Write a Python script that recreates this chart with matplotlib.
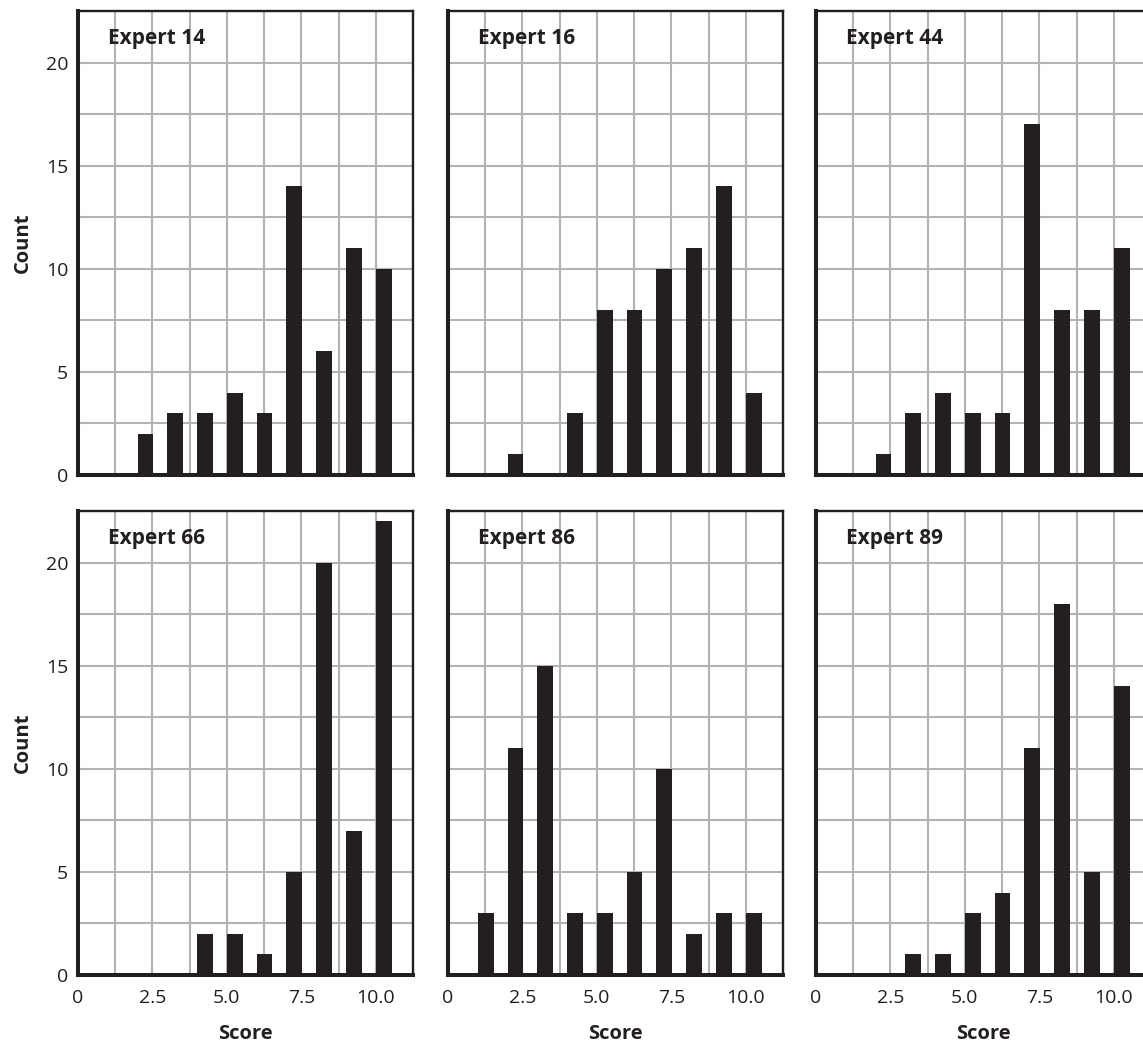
import numpy as np
import matplotlib
matplotlib.use("Agg")
import matplotlib.pyplot as plt

plt.rcParams['font.family'] = ['Open Sans', 'DejaVu Sans']

# score values (bins) and counts per expert
scores = np.arange(1, 11)
experts = ["Expert 14", "Expert 16", "Expert 44", "Expert 66", "Expert 86", "Expert 89"]
counts_14 = [0, 2, 3, 3, 4, 3, 14, 6, 11, 10]
counts_16 = [0, 1, 0, 3, 8, 8, 10, 11, 14, 4]
counts_44 = [0, 1, 3, 4, 3, 3, 17, 8, 8, 11]
counts_66 = [0, 0, 0, 2, 2, 1, 5, 20, 7, 22]
counts_86 = [3, 11, 15, 3, 3, 5, 10, 2, 3, 3]
counts_89 = [0, 0, 1, 1, 3, 4, 11, 18, 5, 14]
all_counts = [counts_14, counts_16, counts_44, counts_66, counts_86, counts_89]

xticks = [0, 2.5, 5.0, 7.5, 10.0]
xtick_labels = ["0", "2.5", "5.0", "7.5", "10.0"]
yticks = [0, 5, 10, 15, 20]
ytick_labels = ["0", "5", "10", "15", "20"]

dark = "#231f20"
grid_col = "#b3b3b7"

fig = plt.figure(figsize=(11.43, 10.42), dpi=100)

lefts = [78, 448, 816]
bottoms = [475, 975]
w_px, h_px = 335, 464

for i, (name, counts) in enumerate(zip(experts, all_counts)):
    row, col = divmod(i, 3)
    ax = fig.add_axes([lefts[col] / 1143, 1 - bottoms[row] / 1042,
                       w_px / 1143, h_px / 1042])
    ax.set_axisbelow(True)
    ax.bar(scores, counts, width=0.53, align='edge', color=dark, zorder=3)

    ax.set_xlim(0, 11.25)
    ax.set_ylim(0, 22.5)
    ax.set_xticks(xticks)
    ax.set_xticks(np.arange(0, 11.3, 1.25), minor=True)
    ax.set_yticks(yticks)
    ax.set_yticks(np.arange(0, 22.6, 2.5), minor=True)
    ax.grid(True, which='both', color=grid_col, linewidth=1.5)
    ax.tick_params(which='both', length=0, labelsize=14, colors=dark)
    ax.tick_params(axis='x', pad=10)
    ax.tick_params(axis='y', pad=7)

    if row == 1:
        ax.set_xticklabels(xtick_labels)
        ax.set_xlabel("Score", fontsize=14.5, fontweight='bold', color=dark, labelpad=12)
    else:
        ax.set_xticklabels([])
    if col == 0:
        ax.set_yticklabels(ytick_labels)
        ax.set_ylabel("Count", fontsize=14.5, fontweight='bold', color=dark, labelpad=9)
    else:
        ax.set_yticklabels([])

    for side in ['left', 'bottom']:
        ax.spines[side].set_linewidth(2.9)
        ax.spines[side].set_color(dark)
    for side in ['top', 'right']:
        ax.spines[side].set_linewidth(1.7)
        ax.spines[side].set_color(dark)

    ax.text(0.09, 0.94, name, transform=ax.transAxes, fontsize=15,
            fontweight='bold', color=dark, va='center', ha='left')

fig.savefig("out.png", dpi=100)
